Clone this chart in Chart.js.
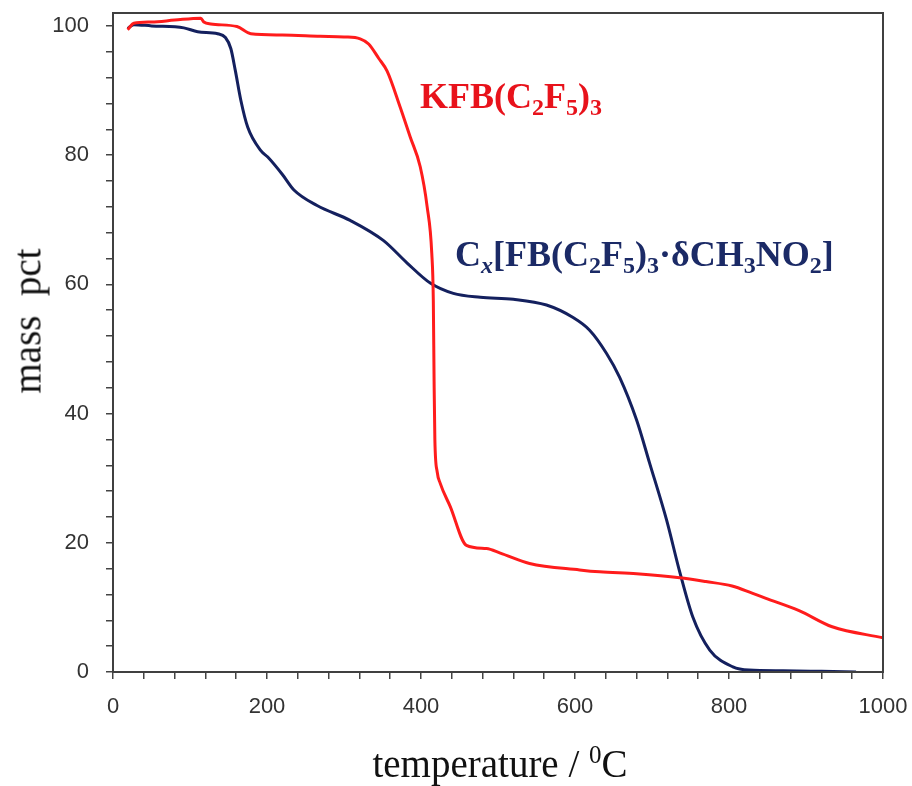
<!DOCTYPE html>
<html>
<head>
<meta charset="utf-8">
<script src="https://cdn.jsdelivr.net/npm/chart.js@4/dist/chart.umd.min.js"></script>
<style>
  html, body { margin:0; padding:0; background:#fff; }
  #wrap { position:relative; width:912px; height:786px; }
  .lbl { position:absolute; font-family:'Liberation Serif','Times New Roman',serif; font-weight:bold; font-size:36px; line-height:1; white-space:nowrap; }
  .lbl sub { font-size:24px; vertical-align:-7px; line-height:0; }
  .lbl i { font-style:italic; }
  #kfb { left:420px; top:78px; color:#e8121b; }
  #cx { left:455px; top:236px; color:#1b2a66; }
  .axt { position:absolute; font-family:'Liberation Serif','Times New Roman',serif; font-size:39px; line-height:1; color:#111; white-space:nowrap; }
  #xtitle { left:500px; top:744px; transform:translateX(-50%); }
  #xtitle sup { font-size:25px; vertical-align:14px; line-height:0; }
  #ytitle { left:27px; top:321px; transform:translate(-50%,-50%) rotate(-90deg); }
</style>
</head>
<body>
<div id="wrap">
  <canvas id="tga" width="912" height="786"></canvas>
  <div class="lbl" id="kfb">KFB(C<sub>2</sub>F<sub>5</sub>)<sub>3</sub></div>
  <div class="lbl" id="cx">C<sub><i>x</i></sub>[FB(C<sub>2</sub>F<sub>5</sub>)<sub>3</sub>·δCH<sub>3</sub>NO<sub>2</sub>]</div>
  <div class="axt" id="xtitle">temperature / <sup>0</sup>C</div>
  <div class="axt" id="ytitle">mass&nbsp; pct</div>
</div>
<script>
// KFB(C2F5)3 curve
const kfbTemp = [19, 27, 50, 80, 114, 118, 127, 161, 179, 220, 269, 300, 321, 332, 345, 356, 373, 386, 399, 408, 414, 416, 417, 418, 421, 425, 438, 459, 485, 503, 541, 606, 632, 680, 736, 770, 804, 830, 848, 891, 934, 1000]
const kfbMass = [99.4, 100.4, 100.6, 100.9, 101.2, 100.6, 100.3, 99.9, 98.8, 98.6, 98.4, 98.3, 98.0, 97.2, 95.0, 93.0, 87.4, 82.8, 78.2, 72.0, 64.8, 57.5, 45.0, 36.0, 31.0, 29.2, 25.6, 19.6, 19.1, 18.4, 16.8, 15.8, 15.5, 15.2, 14.6, 14.0, 13.3, 12.2, 11.4, 9.5, 7.0, 5.3]

// Cx[FB(C2F5)3.dCH3NO2] curve
const cxTemp = [19, 27, 50, 92, 110, 136, 146, 153, 159, 166, 175, 192, 201, 220, 235, 265, 308, 351, 382, 412, 442, 477, 520, 563, 597, 619, 641, 658, 680, 697, 719, 736, 753, 775, 805, 826, 870, 920, 965]
const cxMass = [99.6, 100.2, 100.0, 99.7, 99.1, 98.8, 98.2, 96.5, 93.0, 88.5, 84.3, 80.7, 79.7, 77.0, 74.6, 72.2, 69.9, 66.8, 63.3, 60.2, 58.6, 58.0, 57.7, 56.8, 54.9, 52.9, 49.3, 45.6, 39.0, 32.3, 23.5, 15.5, 8.5, 3.4, 0.8, 0.3, 0.2, 0.1, 0.0]

const xTickLabels = [0, 200, 400, 600, 800, 1000]
const yTickLabels = [0, 20, 40, 60, 80, 100]

const tickFont = { family: "'Liberation Sans', Arial, sans-serif", size: 22 }

function pts(xs, ys){
  return xs.map((x, i) => ({ x: x, y: ys[i] }))
}

// frame around the plot area
const frame = {
  id: 'frame',
  afterDatasetsDraw(chart){
    const a = chart.chartArea, ctx = chart.ctx
    ctx.save()
    ctx.strokeStyle = '#404040'
    ctx.lineWidth = 2
    ctx.strokeRect(a.left, a.top, a.right - a.left, a.bottom - a.top)
    ctx.restore()
  }
}

new Chart(document.getElementById('tga'), {
  type: 'line',
  data: {
    datasets: [{
      label: 'KFB(C2F5)3',
      data: pts(kfbTemp, kfbMass),
      borderColor: '#ff1c1c',
      borderWidth: 3,
      pointRadius: 0,
      cubicInterpolationMode: 'monotone'
    }, {
      label: 'Cx[FB(C2F5)3·δCH3NO2]',
      data: pts(cxTemp, cxMass),
      borderColor: '#14205e',
      borderWidth: 3,
      pointRadius: 0,
      cubicInterpolationMode: 'monotone'
    }]
  },
  options: {
    responsive: false,
    animation: false,
    devicePixelRatio: 1,
    layout: { padding: { left: 0, top: 13, right: 29, bottom: 0 } },
    plugins: { legend: { display: false }, tooltip: { enabled: false } },
    scales: {
      x: {
        type: 'linear',
        min: 0, max: 1000,
        border: { display: false },
        grid: { drawOnChartArea: false, drawTicks: true, tickLength: 7, color: '#444', lineWidth: 1.5 },
        ticks: {
          stepSize: 40, autoSkip: false, includeBounds: false, maxRotation: 0,
          padding: 15, color: '#333', font: tickFont,
          callback: v => xTickLabels.includes(v) ? String(v) : ''
        },
        afterFit(s){ s.height = 114; s.paddingLeft = 0; s.paddingRight = 0 }
      },
      y: {
        min: 0, max: 102,
        border: { display: false },
        grid: { drawOnChartArea: false, drawTicks: true, tickLength: 7, color: '#444', lineWidth: 1.5 },
        ticks: {
          stepSize: 4, autoSkip: false, includeBounds: false,
          padding: 17, color: '#333', font: tickFont,
          callback: v => yTickLabels.includes(v) ? String(v) : ''
        },
        afterFit(s){ s.width = 113; s.paddingTop = 0; s.paddingBottom = 0 }
      }
    }
  },
  plugins: [frame]
})
</script>
</body>
</html>
